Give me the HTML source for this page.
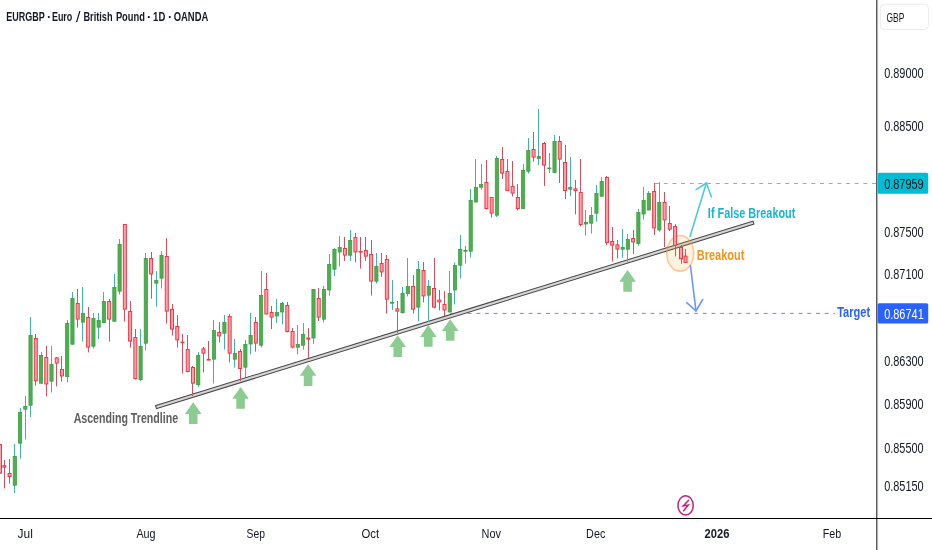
<!DOCTYPE html>
<html><head><meta charset="utf-8"><title>EURGBP chart</title>
<style>html,body{margin:0;padding:0;background:#fff;width:932px;height:550px;overflow:hidden}</style>
</head><body>
<svg width="932" height="550" viewBox="0 0 932 550" style="position:absolute;left:0;top:0;will-change:transform;font-family:'Liberation Sans',sans-serif">
<rect width="932" height="550" fill="#ffffff"/>
<!-- axes -->
<rect x="876" y="0" width="1.2" height="550" fill="#5a5a5a"/><rect x="877.2" y="0" width="0.9" height="550" fill="#a8a8a8"/>
<rect x="0" y="518" width="932" height="1" fill="#000000"/>
<!-- GBP box -->
<rect x="880.3" y="4.3" width="48.2" height="25.2" rx="4" fill="#ffffff" stroke="#ececec" stroke-width="1"/>
<text x="886.48" y="21.8" font-size="12.5" font-weight="normal" fill="#131722" textLength="17.77" lengthAdjust="spacingAndGlyphs" text-anchor="start" >GBP</text>
<!-- dashed lines -->
<line x1="655.1" y1="183.5" x2="876" y2="183.5" stroke="#4fcadb" stroke-width="1" stroke-dasharray="3.9 4.78"/>
<line x1="450.2" y1="313.4" x2="835" y2="313.4" stroke="#5b8ff5" stroke-width="1" stroke-dasharray="3.9 4.81"/>
<!-- trendline -->
<rect x="0" y="-1.6" width="625.3" height="3.2" fill="#d4d4d4" stroke="#444" stroke-width="1" transform="translate(156,407.1) rotate(-17.16)"/>
<!-- ellipse -->
<ellipse cx="680.2" cy="253.4" rx="13.5" ry="17.8" fill="rgba(255,152,0,0.13)" stroke="rgba(245,150,60,0.5)" stroke-width="1.5"/>
<!-- candles -->
<rect x="0" y="444" width="1" height="29.6" fill="#d5505f"/>
<rect x="-1.5" y="444.5" width="3" height="28.6" fill="#f8a3ab" stroke="#f23645" stroke-width="1"/>
<rect x="4" y="460" width="1" height="28.4" fill="#d5505f"/>
<rect x="2.84" y="465.7" width="3" height="1.4" fill="#f8a3ab" stroke="#f23645" stroke-width="1"/>
<rect x="9" y="459" width="1" height="24.6" fill="#d5505f"/>
<rect x="8.08" y="473.5" width="3" height="3" fill="#f8a3ab" stroke="#f23645" stroke-width="1"/>
<rect x="14" y="444" width="1" height="49" fill="#45b3a4"/>
<rect x="13.22" y="456.4" width="3.2" height="28.8" fill="#4caf50" stroke="#3e9e43" stroke-width="0.8"/>
<rect x="20" y="408" width="1" height="50.6" fill="#45b3a4"/>
<rect x="18.46" y="412.4" width="3.2" height="30.8" fill="#4caf50" stroke="#3e9e43" stroke-width="0.8"/>
<rect x="25" y="396" width="1" height="43.6" fill="#45b3a4"/>
<rect x="23.7" y="406.4" width="3.2" height="2.8" fill="#4caf50" stroke="#3e9e43" stroke-width="0.8"/>
<rect x="30" y="317" width="1" height="100" fill="#45b3a4"/>
<rect x="28.94" y="335.4" width="3.2" height="69.8" fill="#4caf50" stroke="#3e9e43" stroke-width="0.8"/>
<rect x="35" y="334" width="1" height="51.6" fill="#d5505f"/>
<rect x="34.28" y="338.5" width="3" height="42.4" fill="#f8a3ab" stroke="#f23645" stroke-width="1"/>
<rect x="41" y="352" width="1" height="31.6" fill="#45b3a4"/>
<rect x="39.42" y="355.4" width="3.2" height="27.8" fill="#4caf50" stroke="#3e9e43" stroke-width="0.8"/>
<rect x="46" y="346" width="1" height="50.4" fill="#d5505f"/>
<rect x="44.76" y="357.5" width="3" height="26.4" fill="#f8a3ab" stroke="#f23645" stroke-width="1"/>
<rect x="51" y="346" width="1" height="46.4" fill="#45b3a4"/>
<rect x="49.9" y="364.4" width="3.2" height="16.8" fill="#4caf50" stroke="#3e9e43" stroke-width="0.8"/>
<rect x="56" y="357" width="1" height="29.4" fill="#d5505f"/>
<rect x="55.24" y="357.9" width="3" height="5.2" fill="#f8a3ab" stroke="#f23645" stroke-width="1"/>
<rect x="61" y="356" width="1" height="25.6" fill="#d5505f"/>
<rect x="60.48" y="369.5" width="3" height="6.4" fill="#f8a3ab" stroke="#f23645" stroke-width="1"/>
<rect x="67" y="320" width="1" height="62.4" fill="#45b3a4"/>
<rect x="65.62" y="323.4" width="3.2" height="53.2" fill="#4caf50" stroke="#3e9e43" stroke-width="0.8"/>
<rect x="72" y="292" width="1" height="52.6" fill="#45b3a4"/>
<rect x="70.86" y="298.4" width="3.2" height="45.8" fill="#4caf50" stroke="#3e9e43" stroke-width="0.8"/>
<rect x="77" y="289" width="1" height="38.6" fill="#d5505f"/>
<rect x="76.2" y="303.5" width="3" height="15.6" fill="#f8a3ab" stroke="#f23645" stroke-width="1"/>
<rect x="82" y="287" width="1" height="54.6" fill="#45b3a4"/>
<rect x="81.34" y="313.4" width="3.2" height="8.8" fill="#4caf50" stroke="#3e9e43" stroke-width="0.8"/>
<rect x="88" y="307" width="1" height="45.4" fill="#d5505f"/>
<rect x="86.68" y="317.5" width="3" height="29.6" fill="#f8a3ab" stroke="#f23645" stroke-width="1"/>
<rect x="93" y="313" width="1" height="35.6" fill="#45b3a4"/>
<rect x="91.82" y="318.4" width="3.2" height="27.8" fill="#4caf50" stroke="#3e9e43" stroke-width="0.8"/>
<rect x="98" y="313" width="1" height="26" fill="#45b3a4"/>
<rect x="97.06" y="320.4" width="3.2" height="6.8" fill="#4caf50" stroke="#3e9e43" stroke-width="0.8"/>
<rect x="103" y="292" width="1" height="31" fill="#45b3a4"/>
<rect x="102.3" y="301.4" width="3.2" height="21.2" fill="#4caf50" stroke="#3e9e43" stroke-width="0.8"/>
<rect x="109" y="299" width="1" height="42.6" fill="#d5505f"/>
<rect x="107.64" y="301.5" width="3" height="17.6" fill="#f8a3ab" stroke="#f23645" stroke-width="1"/>
<rect x="114" y="274" width="1" height="47.6" fill="#45b3a4"/>
<rect x="112.78" y="287.4" width="3.2" height="33.8" fill="#4caf50" stroke="#3e9e43" stroke-width="0.8"/>
<rect x="119" y="239" width="1" height="55.4" fill="#45b3a4"/>
<rect x="118.02" y="244.4" width="3.2" height="46.8" fill="#4caf50" stroke="#3e9e43" stroke-width="0.8"/>
<rect x="124" y="224" width="1" height="97.6" fill="#d5505f"/>
<rect x="123.36" y="224.5" width="3" height="84.6" fill="#f8a3ab" stroke="#f23645" stroke-width="1"/>
<rect x="130" y="301" width="1" height="46.6" fill="#d5505f"/>
<rect x="128.6" y="311.5" width="3" height="29.6" fill="#f8a3ab" stroke="#f23645" stroke-width="1"/>
<rect x="135" y="329" width="1" height="50.6" fill="#d5505f"/>
<rect x="133.84" y="337.5" width="3" height="41" fill="#f8a3ab" stroke="#f23645" stroke-width="1"/>
<rect x="140" y="329" width="1" height="52" fill="#45b3a4"/>
<rect x="138.98" y="346.4" width="3.2" height="33.2" fill="#4caf50" stroke="#3e9e43" stroke-width="0.8"/>
<rect x="145" y="253" width="1" height="97.4" fill="#45b3a4"/>
<rect x="144.22" y="258.4" width="3.2" height="84.8" fill="#4caf50" stroke="#3e9e43" stroke-width="0.8"/>
<rect x="151" y="252" width="1" height="46.6" fill="#d5505f"/>
<rect x="149.56" y="258.5" width="3" height="15.4" fill="#f8a3ab" stroke="#f23645" stroke-width="1"/>
<rect x="156" y="271" width="1" height="35.6" fill="#45b3a4"/>
<rect x="154.7" y="280.4" width="3.2" height="2.8" fill="#4caf50" stroke="#3e9e43" stroke-width="0.8"/>
<rect x="161" y="251" width="1" height="37.4" fill="#45b3a4"/>
<rect x="159.94" y="255.4" width="3.2" height="22.8" fill="#4caf50" stroke="#3e9e43" stroke-width="0.8"/>
<rect x="166" y="238" width="1" height="85.6" fill="#d5505f"/>
<rect x="165.28" y="256.5" width="3" height="54.6" fill="#f8a3ab" stroke="#f23645" stroke-width="1"/>
<rect x="172" y="304" width="1" height="31.6" fill="#d5505f"/>
<rect x="170.52" y="309.5" width="3" height="19.6" fill="#f8a3ab" stroke="#f23645" stroke-width="1"/>
<rect x="177" y="315" width="1" height="32.6" fill="#d5505f"/>
<rect x="175.76" y="326.5" width="3" height="13.4" fill="#f8a3ab" stroke="#f23645" stroke-width="1"/>
<rect x="182" y="334" width="1" height="39.6" fill="#d5505f"/>
<rect x="181" y="342.1" width="3" height="0.6" fill="#f8a3ab" stroke="#f23645" stroke-width="1"/>
<rect x="187" y="335" width="1" height="37.4" fill="#d5505f"/>
<rect x="186.24" y="349.5" width="3" height="22" fill="#f8a3ab" stroke="#f23645" stroke-width="1"/>
<rect x="192" y="366" width="1" height="30" fill="#d5505f"/>
<rect x="191.48" y="367.5" width="3" height="15.6" fill="#f8a3ab" stroke="#f23645" stroke-width="1"/>
<rect x="198" y="352" width="1" height="35" fill="#45b3a4"/>
<rect x="196.62" y="355.4" width="3.2" height="29.2" fill="#4caf50" stroke="#3e9e43" stroke-width="0.8"/>
<rect x="203" y="347" width="1" height="25.4" fill="#d5505f"/>
<rect x="201.96" y="348.9" width="3" height="4.2" fill="#f8a3ab" stroke="#f23645" stroke-width="1"/>
<rect x="208" y="341" width="1" height="19" fill="#d5505f"/>
<rect x="207.2" y="359.5" width="3" height="0.6" fill="#f8a3ab" stroke="#f23645" stroke-width="1"/>
<rect x="213" y="320" width="1" height="63.6" fill="#45b3a4"/>
<rect x="212.34" y="330.4" width="3.2" height="28.8" fill="#4caf50" stroke="#3e9e43" stroke-width="0.8"/>
<rect x="219" y="322" width="1" height="20.4" fill="#d5505f"/>
<rect x="217.68" y="332.5" width="3" height="3.4" fill="#f8a3ab" stroke="#f23645" stroke-width="1"/>
<rect x="224" y="315" width="1" height="34.6" fill="#45b3a4"/>
<rect x="222.82" y="322.4" width="3.2" height="10.8" fill="#4caf50" stroke="#3e9e43" stroke-width="0.8"/>
<rect x="229" y="314" width="1" height="48.4" fill="#d5505f"/>
<rect x="228.16" y="316.5" width="3" height="36.6" fill="#f8a3ab" stroke="#f23645" stroke-width="1"/>
<rect x="234" y="339" width="1" height="28.6" fill="#45b3a4"/>
<rect x="233.3" y="353.4" width="3.2" height="5.8" fill="#4caf50" stroke="#3e9e43" stroke-width="0.8"/>
<rect x="240" y="349" width="1" height="32" fill="#d5505f"/>
<rect x="238.64" y="351.5" width="3" height="17" fill="#f8a3ab" stroke="#f23645" stroke-width="1"/>
<rect x="245" y="340" width="1" height="37" fill="#45b3a4"/>
<rect x="243.78" y="344.4" width="3.2" height="22.8" fill="#4caf50" stroke="#3e9e43" stroke-width="0.8"/>
<rect x="250" y="313" width="1" height="41.4" fill="#45b3a4"/>
<rect x="249.02" y="335.4" width="3.2" height="8.6" fill="#4caf50" stroke="#3e9e43" stroke-width="0.8"/>
<rect x="255" y="317" width="1" height="34.6" fill="#d5505f"/>
<rect x="254.36" y="322.5" width="3" height="20.6" fill="#f8a3ab" stroke="#f23645" stroke-width="1"/>
<rect x="261" y="271" width="1" height="76.6" fill="#45b3a4"/>
<rect x="259.5" y="295.4" width="3.2" height="49.8" fill="#4caf50" stroke="#3e9e43" stroke-width="0.8"/>
<rect x="266" y="273" width="1" height="41.4" fill="#d5505f"/>
<rect x="264.84" y="289.5" width="3" height="24.4" fill="#f8a3ab" stroke="#f23645" stroke-width="1"/>
<rect x="271" y="306" width="1" height="23" fill="#d5505f"/>
<rect x="270.08" y="312.5" width="3" height="4.6" fill="#f8a3ab" stroke="#f23645" stroke-width="1"/>
<rect x="276" y="299" width="1" height="24" fill="#45b3a4"/>
<rect x="275.22" y="312.4" width="3.2" height="3.6" fill="#4caf50" stroke="#3e9e43" stroke-width="0.8"/>
<rect x="282" y="302" width="1" height="22.4" fill="#45b3a4"/>
<rect x="280.46" y="303.4" width="3.2" height="8.6" fill="#4caf50" stroke="#3e9e43" stroke-width="0.8"/>
<rect x="287" y="302" width="1" height="30.4" fill="#d5505f"/>
<rect x="285.8" y="305.5" width="3" height="26" fill="#f8a3ab" stroke="#f23645" stroke-width="1"/>
<rect x="292" y="328" width="1" height="20.4" fill="#d5505f"/>
<rect x="291.04" y="331.5" width="3" height="15.6" fill="#f8a3ab" stroke="#f23645" stroke-width="1"/>
<rect x="297" y="325" width="1" height="29.4" fill="#45b3a4"/>
<rect x="296.18" y="344.4" width="3.2" height="2.8" fill="#4caf50" stroke="#3e9e43" stroke-width="0.8"/>
<rect x="303" y="323" width="1" height="26.6" fill="#45b3a4"/>
<rect x="301.42" y="334.4" width="3.2" height="10.8" fill="#4caf50" stroke="#3e9e43" stroke-width="0.8"/>
<rect x="308" y="328" width="1" height="30" fill="#d5505f"/>
<rect x="306.76" y="338.1" width="3" height="1" fill="#f8a3ab" stroke="#f23645" stroke-width="1"/>
<rect x="313" y="289" width="1" height="55" fill="#45b3a4"/>
<rect x="311.9" y="289.4" width="3.2" height="48.6" fill="#4caf50" stroke="#3e9e43" stroke-width="0.8"/>
<rect x="318" y="288" width="1" height="33" fill="#d5505f"/>
<rect x="317.24" y="298.5" width="3" height="18.6" fill="#f8a3ab" stroke="#f23645" stroke-width="1"/>
<rect x="323" y="286" width="1" height="36.4" fill="#45b3a4"/>
<rect x="322.38" y="289.4" width="3.2" height="29.8" fill="#4caf50" stroke="#3e9e43" stroke-width="0.8"/>
<rect x="329" y="254" width="1" height="41.6" fill="#45b3a4"/>
<rect x="327.62" y="264.4" width="3.2" height="25.6" fill="#4caf50" stroke="#3e9e43" stroke-width="0.8"/>
<rect x="334" y="248" width="1" height="28" fill="#45b3a4"/>
<rect x="332.86" y="249.4" width="3.2" height="19.8" fill="#4caf50" stroke="#3e9e43" stroke-width="0.8"/>
<rect x="339" y="236" width="1" height="30.4" fill="#45b3a4"/>
<rect x="338.1" y="247.4" width="3.2" height="4.6" fill="#4caf50" stroke="#3e9e43" stroke-width="0.8"/>
<rect x="344" y="237" width="1" height="24" fill="#d5505f"/>
<rect x="343.44" y="248.5" width="3" height="6.6" fill="#f8a3ab" stroke="#f23645" stroke-width="1"/>
<rect x="350" y="230" width="1" height="31" fill="#45b3a4"/>
<rect x="348.58" y="240.4" width="3.2" height="14.8" fill="#4caf50" stroke="#3e9e43" stroke-width="0.8"/>
<rect x="355" y="233" width="1" height="29.4" fill="#d5505f"/>
<rect x="353.92" y="237.5" width="3" height="14.4" fill="#f8a3ab" stroke="#f23645" stroke-width="1"/>
<rect x="360" y="237" width="1" height="31.6" fill="#d5505f"/>
<rect x="359.16" y="251.5" width="3" height="0.6" fill="#f8a3ab" stroke="#f23645" stroke-width="1"/>
<rect x="365" y="237" width="1" height="24" fill="#d5505f"/>
<rect x="364.4" y="250.5" width="3" height="5.6" fill="#f8a3ab" stroke="#f23645" stroke-width="1"/>
<rect x="371" y="240" width="1" height="55.6" fill="#d5505f"/>
<rect x="369.64" y="254.5" width="3" height="26.6" fill="#f8a3ab" stroke="#f23645" stroke-width="1"/>
<rect x="376" y="253" width="1" height="30.6" fill="#45b3a4"/>
<rect x="374.78" y="266.4" width="3.2" height="14.8" fill="#4caf50" stroke="#3e9e43" stroke-width="0.8"/>
<rect x="381" y="253" width="1" height="24" fill="#d5505f"/>
<rect x="380.12" y="263.5" width="3" height="8.4" fill="#f8a3ab" stroke="#f23645" stroke-width="1"/>
<rect x="386" y="255" width="1" height="58.6" fill="#d5505f"/>
<rect x="385.36" y="259.5" width="3" height="39.6" fill="#f8a3ab" stroke="#f23645" stroke-width="1"/>
<rect x="392" y="280" width="1" height="30" fill="#45b3a4"/>
<rect x="390.5" y="302.4" width="3.2" height="0.8" fill="#4caf50" stroke="#3e9e43" stroke-width="0.8"/>
<rect x="397" y="301" width="1" height="32" fill="#d5505f"/>
<rect x="395.84" y="308.9" width="3" height="2.2" fill="#f8a3ab" stroke="#f23645" stroke-width="1"/>
<rect x="402" y="287" width="1" height="26.6" fill="#45b3a4"/>
<rect x="400.98" y="293.4" width="3.2" height="19.2" fill="#4caf50" stroke="#3e9e43" stroke-width="0.8"/>
<rect x="407" y="258" width="1" height="38.4" fill="#45b3a4"/>
<rect x="406.22" y="286.4" width="3.2" height="7.2" fill="#4caf50" stroke="#3e9e43" stroke-width="0.8"/>
<rect x="413" y="275" width="1" height="38.6" fill="#d5505f"/>
<rect x="411.56" y="286.5" width="3" height="22.6" fill="#f8a3ab" stroke="#f23645" stroke-width="1"/>
<rect x="418" y="261" width="1" height="60" fill="#45b3a4"/>
<rect x="416.7" y="269.4" width="3.2" height="37.8" fill="#4caf50" stroke="#3e9e43" stroke-width="0.8"/>
<rect x="423" y="262" width="1" height="40.4" fill="#d5505f"/>
<rect x="422.04" y="270.5" width="3" height="25.4" fill="#f8a3ab" stroke="#f23645" stroke-width="1"/>
<rect x="428" y="280" width="1" height="42" fill="#45b3a4"/>
<rect x="427.18" y="286.4" width="3.2" height="8.8" fill="#4caf50" stroke="#3e9e43" stroke-width="0.8"/>
<rect x="434" y="258" width="1" height="50.4" fill="#d5505f"/>
<rect x="432.52" y="288.5" width="3" height="18.6" fill="#f8a3ab" stroke="#f23645" stroke-width="1"/>
<rect x="439" y="290" width="1" height="20.4" fill="#d5505f"/>
<rect x="437.76" y="300.1" width="3" height="1.8" fill="#f8a3ab" stroke="#f23645" stroke-width="1"/>
<rect x="444" y="291" width="1" height="25" fill="#d5505f"/>
<rect x="443" y="304.5" width="3" height="5.4" fill="#f8a3ab" stroke="#f23645" stroke-width="1"/>
<rect x="449" y="271" width="1" height="41.4" fill="#45b3a4"/>
<rect x="448.14" y="293.4" width="3.2" height="18.6" fill="#4caf50" stroke="#3e9e43" stroke-width="0.8"/>
<rect x="454" y="262.4" width="1" height="42" fill="#45b3a4"/>
<rect x="453.38" y="265.4" width="3.2" height="24.6" fill="#4caf50" stroke="#3e9e43" stroke-width="0.8"/>
<rect x="460" y="235" width="1" height="43.4" fill="#45b3a4"/>
<rect x="458.62" y="249.4" width="3.2" height="15.8" fill="#4caf50" stroke="#3e9e43" stroke-width="0.8"/>
<rect x="465" y="246" width="1" height="17.6" fill="#45b3a4"/>
<rect x="463.86" y="250.4" width="3.2" height="0.8" fill="#4caf50" stroke="#3e9e43" stroke-width="0.8"/>
<rect x="470" y="189" width="1" height="68.6" fill="#45b3a4"/>
<rect x="469.1" y="200.4" width="3.2" height="50.8" fill="#4caf50" stroke="#3e9e43" stroke-width="0.8"/>
<rect x="475" y="159" width="1" height="43.4" fill="#45b3a4"/>
<rect x="474.34" y="187.4" width="3.2" height="14.6" fill="#4caf50" stroke="#3e9e43" stroke-width="0.8"/>
<rect x="481" y="164" width="1" height="25.6" fill="#45b3a4"/>
<rect x="479.58" y="184.4" width="3.2" height="2.8" fill="#4caf50" stroke="#3e9e43" stroke-width="0.8"/>
<rect x="486" y="160" width="1" height="49.6" fill="#d5505f"/>
<rect x="484.92" y="182.5" width="3" height="26" fill="#f8a3ab" stroke="#f23645" stroke-width="1"/>
<rect x="491" y="197" width="1" height="20.6" fill="#d5505f"/>
<rect x="490.16" y="197.5" width="3" height="15.6" fill="#f8a3ab" stroke="#f23645" stroke-width="1"/>
<rect x="496" y="156" width="1" height="61" fill="#45b3a4"/>
<rect x="495.3" y="158.4" width="3.2" height="56.8" fill="#4caf50" stroke="#3e9e43" stroke-width="0.8"/>
<rect x="502" y="147" width="1" height="32" fill="#d5505f"/>
<rect x="500.64" y="159.5" width="3" height="13.6" fill="#f8a3ab" stroke="#f23645" stroke-width="1"/>
<rect x="507" y="159" width="1" height="32" fill="#d5505f"/>
<rect x="505.88" y="171.5" width="3" height="19" fill="#f8a3ab" stroke="#f23645" stroke-width="1"/>
<rect x="512" y="161" width="1" height="35.4" fill="#d5505f"/>
<rect x="511.12" y="186.5" width="3" height="6.6" fill="#f8a3ab" stroke="#f23645" stroke-width="1"/>
<rect x="517" y="184" width="1" height="26.4" fill="#d5505f"/>
<rect x="516.36" y="197.5" width="3" height="11" fill="#f8a3ab" stroke="#f23645" stroke-width="1"/>
<rect x="523" y="164" width="1" height="45" fill="#45b3a4"/>
<rect x="521.5" y="170.4" width="3.2" height="38.2" fill="#4caf50" stroke="#3e9e43" stroke-width="0.8"/>
<rect x="528" y="138" width="1" height="35.6" fill="#45b3a4"/>
<rect x="526.74" y="150.4" width="3.2" height="20.8" fill="#4caf50" stroke="#3e9e43" stroke-width="0.8"/>
<rect x="533" y="132" width="1" height="29.6" fill="#d5505f"/>
<rect x="532.08" y="149.5" width="3" height="7.6" fill="#f8a3ab" stroke="#f23645" stroke-width="1"/>
<rect x="538" y="109" width="1" height="56" fill="#45b3a4"/>
<rect x="537.22" y="156.4" width="3.2" height="2.2" fill="#4caf50" stroke="#3e9e43" stroke-width="0.8"/>
<rect x="544" y="142" width="1" height="44" fill="#d5505f"/>
<rect x="542.56" y="143.5" width="3" height="21.6" fill="#f8a3ab" stroke="#f23645" stroke-width="1"/>
<rect x="549" y="153" width="1" height="20" fill="#45b3a4"/>
<rect x="547.7" y="168" width="3.2" height="0.6" fill="#4caf50" stroke="#3e9e43" stroke-width="0.8"/>
<rect x="554" y="135" width="1" height="38" fill="#45b3a4"/>
<rect x="552.94" y="141.4" width="3.2" height="31.2" fill="#4caf50" stroke="#3e9e43" stroke-width="0.8"/>
<rect x="559" y="136" width="1" height="47" fill="#d5505f"/>
<rect x="558.28" y="141.5" width="3" height="17.6" fill="#f8a3ab" stroke="#f23645" stroke-width="1"/>
<rect x="565" y="145" width="1" height="54" fill="#d5505f"/>
<rect x="563.52" y="162.5" width="3" height="28" fill="#f8a3ab" stroke="#f23645" stroke-width="1"/>
<rect x="570" y="157" width="1" height="39" fill="#45b3a4"/>
<rect x="568.66" y="187.4" width="3.2" height="1.8" fill="#4caf50" stroke="#3e9e43" stroke-width="0.8"/>
<rect x="575" y="180" width="1" height="34.4" fill="#d5505f"/>
<rect x="574" y="188.9" width="3" height="1.6" fill="#f8a3ab" stroke="#f23645" stroke-width="1"/>
<rect x="580" y="159" width="1" height="67.4" fill="#d5505f"/>
<rect x="579.24" y="192.5" width="3" height="32" fill="#f8a3ab" stroke="#f23645" stroke-width="1"/>
<rect x="585" y="210" width="1" height="25.6" fill="#45b3a4"/>
<rect x="584.38" y="222.4" width="3.2" height="1.6" fill="#4caf50" stroke="#3e9e43" stroke-width="0.8"/>
<rect x="591" y="207" width="1" height="26.6" fill="#45b3a4"/>
<rect x="589.62" y="215.4" width="3.2" height="7.8" fill="#4caf50" stroke="#3e9e43" stroke-width="0.8"/>
<rect x="596" y="185" width="1" height="36.6" fill="#45b3a4"/>
<rect x="594.86" y="193.4" width="3.2" height="19.8" fill="#4caf50" stroke="#3e9e43" stroke-width="0.8"/>
<rect x="601" y="177" width="1" height="19.6" fill="#45b3a4"/>
<rect x="600.1" y="181.4" width="3.2" height="14.8" fill="#4caf50" stroke="#3e9e43" stroke-width="0.8"/>
<rect x="606" y="176" width="1" height="69" fill="#d5505f"/>
<rect x="605.44" y="177.5" width="3" height="65" fill="#f8a3ab" stroke="#f23645" stroke-width="1"/>
<rect x="612" y="227" width="1" height="34.6" fill="#d5505f"/>
<rect x="610.68" y="241.5" width="3" height="3.6" fill="#f8a3ab" stroke="#f23645" stroke-width="1"/>
<rect x="617" y="240" width="1" height="18.4" fill="#d5505f"/>
<rect x="615.92" y="244.9" width="3" height="4.2" fill="#f8a3ab" stroke="#f23645" stroke-width="1"/>
<rect x="622" y="229" width="1" height="28.6" fill="#45b3a4"/>
<rect x="621.06" y="247.4" width="3.2" height="1.8" fill="#4caf50" stroke="#3e9e43" stroke-width="0.8"/>
<rect x="627" y="234" width="1" height="28.4" fill="#45b3a4"/>
<rect x="626.3" y="239.4" width="3.2" height="9.8" fill="#4caf50" stroke="#3e9e43" stroke-width="0.8"/>
<rect x="633" y="230" width="1" height="24" fill="#d5505f"/>
<rect x="631.64" y="238.5" width="3" height="3.4" fill="#f8a3ab" stroke="#f23645" stroke-width="1"/>
<rect x="638" y="209" width="1" height="36.6" fill="#45b3a4"/>
<rect x="636.78" y="212.4" width="3.2" height="31.2" fill="#4caf50" stroke="#3e9e43" stroke-width="0.8"/>
<rect x="643" y="187" width="1" height="32.6" fill="#45b3a4"/>
<rect x="642.02" y="200.4" width="3.2" height="13.6" fill="#4caf50" stroke="#3e9e43" stroke-width="0.8"/>
<rect x="648" y="191" width="1" height="19.4" fill="#45b3a4"/>
<rect x="647.26" y="193.4" width="3.2" height="16.6" fill="#4caf50" stroke="#3e9e43" stroke-width="0.8"/>
<rect x="654" y="183" width="1" height="52" fill="#d5505f"/>
<rect x="652.6" y="191.5" width="3" height="36.4" fill="#f8a3ab" stroke="#f23645" stroke-width="1"/>
<rect x="659" y="182" width="1" height="49.6" fill="#45b3a4"/>
<rect x="657.74" y="202.4" width="3.2" height="27.6" fill="#4caf50" stroke="#3e9e43" stroke-width="0.8"/>
<rect x="664" y="192" width="1" height="55" fill="#d5505f"/>
<rect x="663.08" y="202.5" width="3" height="17.4" fill="#f8a3ab" stroke="#f23645" stroke-width="1"/>
<rect x="669" y="206" width="1" height="25" fill="#d5505f"/>
<rect x="668.32" y="223.5" width="3" height="5.6" fill="#f8a3ab" stroke="#f23645" stroke-width="1"/>
<rect x="675" y="224.2" width="1" height="32.2" fill="#d5505f"/>
<rect x="673.56" y="226.6" width="3" height="18.9" fill="#f8a3ab" stroke="#f23645" stroke-width="1"/>
<rect x="681" y="245" width="1" height="18.7" fill="#d5505f"/>
<rect x="679.5" y="247.5" width="3" height="11.2" fill="#f8a3ab" stroke="#f23645" stroke-width="1"/>
<rect x="685" y="249" width="1" height="14" fill="#d5505f"/>
<rect x="684.04" y="256.1" width="3" height="6.3" fill="#f8a3ab" stroke="#f23645" stroke-width="1"/>
<!-- arrows up -->
<path d="M193.2,402.2 L201.5,414 L197.5,414 L197.5,424 L188.9,424 L188.9,414 L184.9,414 Z" fill="#8dcc91"/>
<path d="M240.6,387 L248.9,398.8 L244.9,398.8 L244.9,408.8 L236.3,408.8 L236.3,398.8 L232.3,398.8 Z" fill="#8dcc91"/>
<path d="M308.1,363.9 L316.4,375.7 L312.4,375.7 L312.4,386 L303.8,386 L303.8,375.7 L299.8,375.7 Z" fill="#8dcc91"/>
<path d="M397.7,335.2 L406,347 L402,347 L402,356.9 L393.4,356.9 L393.4,347 L389.4,347 Z" fill="#8dcc91"/>
<path d="M428.3,325.1 L436.6,336.9 L432.6,336.9 L432.6,346.8 L424,346.8 L424,336.9 L420,336.9 Z" fill="#8dcc91"/>
<path d="M450.2,319.3 L458.5,331.1 L454.5,331.1 L454.5,340.8 L445.9,340.8 L445.9,331.1 L441.9,331.1 Z" fill="#8dcc91"/>
<path d="M627.6,269.9 L635.9,281.7 L631.9,281.7 L631.9,291.8 L623.3,291.8 L623.3,281.7 L619.3,281.7 Z" fill="#8dcc91"/>
<!-- cyan arrow -->
<g stroke="#4fcadb" stroke-width="1.6" fill="none" stroke-linecap="round" stroke-linejoin="round">
<line x1="690" y1="236.4" x2="706.4" y2="183"/>
<polyline points="696.1,189.6 706.4,183 711.3,196.8"/>
</g>
<!-- blue arrow -->
<g stroke="#6b98f7" stroke-width="1.6" fill="none" stroke-linecap="round" stroke-linejoin="round">
<line x1="690.4" y1="265.5" x2="696" y2="310.9"/>
<polyline points="686.7,302.7 696,310.9 702.7,299.5"/>
</g>
<!-- labels -->
<text x="707.87" y="217.6" font-size="14" font-weight="bold" fill="#19b5cf" textLength="87.46" lengthAdjust="spacingAndGlyphs" text-anchor="start" >If False Breakout</text>
<text x="696.87" y="259.6" font-size="14" font-weight="bold" fill="#f7941d" textLength="47.47" lengthAdjust="spacingAndGlyphs" text-anchor="start" >Breakout</text>
<text x="837.18" y="316.9" font-size="14" font-weight="bold" fill="#2962ff" textLength="32.95" lengthAdjust="spacingAndGlyphs" text-anchor="start" >Target</text>
<text x="73.64" y="422.7" font-size="14" font-weight="bold" fill="#5d5d5d" textLength="104.42" lengthAdjust="spacingAndGlyphs" text-anchor="start" >Ascending Trendline</text>
<!-- price tags -->
<rect x="877.6" y="172.8" width="50.6" height="20.9" rx="1.5" fill="#00bcd4"/>
<text x="884.17" y="188.7" font-size="14" font-weight="normal" fill="#131722" textLength="39.55" lengthAdjust="spacingAndGlyphs" text-anchor="start" >0.87959</text>
<rect x="877.6" y="303.2" width="50.6" height="20.4" rx="1.5" fill="#2962ff"/>
<text x="884.17" y="319" font-size="14" font-weight="normal" fill="#ffffff" textLength="39.56" lengthAdjust="spacingAndGlyphs" text-anchor="start" >0.86741</text>
<!-- lightning -->
<ellipse cx="685.6" cy="505.4" rx="7.6" ry="9.6" fill="none" stroke="#c2227a" stroke-width="1.5"/>
<path d="M688.4,500.4 L683.2,505.9 L688.4,505.1 L683.6,510.7" fill="none" stroke="#c2227a" stroke-width="1.5" stroke-linejoin="miter" stroke-linecap="round"/>
<text x="6.25" y="20.7" font-size="13" font-weight="bold" fill="#131722" textLength="38.36" lengthAdjust="spacingAndGlyphs" text-anchor="start" >EURGBP</text><text x="46.92" y="20.7" font-size="13" font-weight="bold" fill="#131722" textLength="4.26" lengthAdjust="spacingAndGlyphs" text-anchor="start" >·</text><text x="51.9" y="20.7" font-size="13" font-weight="bold" fill="#131722" textLength="20.45" lengthAdjust="spacingAndGlyphs" text-anchor="start" >Euro</text><text x="76.1" y="21.6" font-size="14.5" font-weight="normal" fill="#131722" textLength="4.5" lengthAdjust="spacingAndGlyphs" text-anchor="start" >/</text><text x="83.49" y="20.7" font-size="13" font-weight="bold" fill="#131722" textLength="29.08" lengthAdjust="spacingAndGlyphs" text-anchor="start" >British</text><text x="115.88" y="20.7" font-size="13" font-weight="bold" fill="#131722" textLength="29.04" lengthAdjust="spacingAndGlyphs" text-anchor="start" >Pound</text><text x="146.92" y="20.7" font-size="13" font-weight="bold" fill="#131722" textLength="4.26" lengthAdjust="spacingAndGlyphs" text-anchor="start" >·</text><text x="153.1" y="20.7" font-size="13" font-weight="bold" fill="#131722" textLength="12.2" lengthAdjust="spacingAndGlyphs" text-anchor="start" >1D</text><text x="168.12" y="20.7" font-size="13" font-weight="bold" fill="#131722" textLength="4.26" lengthAdjust="spacingAndGlyphs" text-anchor="start" >·</text><text x="173.71" y="20.7" font-size="13" font-weight="bold" fill="#131722" textLength="34.53" lengthAdjust="spacingAndGlyphs" text-anchor="start" >OANDA</text><text x="17.51" y="537.6" font-size="13" font-weight="normal" fill="#131722" textLength="15.29" lengthAdjust="spacingAndGlyphs" text-anchor="start" >Jul</text><text x="136.38" y="537.6" font-size="13" font-weight="normal" fill="#131722" textLength="19.11" lengthAdjust="spacingAndGlyphs" text-anchor="start" >Aug</text><text x="246.53" y="537.6" font-size="13" font-weight="normal" fill="#131722" textLength="18.4" lengthAdjust="spacingAndGlyphs" text-anchor="start" >Sep</text><text x="361.46" y="537.6" font-size="13" font-weight="normal" fill="#131722" textLength="17.62" lengthAdjust="spacingAndGlyphs" text-anchor="start" >Oct</text><text x="481.6" y="537.6" font-size="13" font-weight="normal" fill="#131722" textLength="19.43" lengthAdjust="spacingAndGlyphs" text-anchor="start" >Nov</text><text x="586.12" y="537.6" font-size="13" font-weight="normal" fill="#131722" textLength="19.17" lengthAdjust="spacingAndGlyphs" text-anchor="start" >Dec</text><text x="704.61" y="537.6" font-size="13" font-weight="bold" fill="#131722" textLength="24.79" lengthAdjust="spacingAndGlyphs" text-anchor="start" >2026</text><text x="822.72" y="537.6" font-size="13" font-weight="normal" fill="#131722" textLength="18.43" lengthAdjust="spacingAndGlyphs" text-anchor="start" >Feb</text><text x="884.17" y="77.9" font-size="14" font-weight="normal" fill="#131722" textLength="39.45" lengthAdjust="spacingAndGlyphs" text-anchor="start" >0.89000</text><text x="884.17" y="131.1" font-size="14" font-weight="normal" fill="#131722" textLength="39.45" lengthAdjust="spacingAndGlyphs" text-anchor="start" >0.88500</text><text x="884.17" y="237.2" font-size="14" font-weight="normal" fill="#131722" textLength="39.45" lengthAdjust="spacingAndGlyphs" text-anchor="start" >0.87500</text><text x="884.17" y="279" font-size="14" font-weight="normal" fill="#131722" textLength="39.45" lengthAdjust="spacingAndGlyphs" text-anchor="start" >0.87100</text><text x="884.17" y="366.2" font-size="14" font-weight="normal" fill="#131722" textLength="39.45" lengthAdjust="spacingAndGlyphs" text-anchor="start" >0.86300</text><text x="884.17" y="408.8" font-size="14" font-weight="normal" fill="#131722" textLength="39.45" lengthAdjust="spacingAndGlyphs" text-anchor="start" >0.85900</text><text x="884.17" y="453.2" font-size="14" font-weight="normal" fill="#131722" textLength="39.45" lengthAdjust="spacingAndGlyphs" text-anchor="start" >0.85500</text><text x="884.17" y="491" font-size="14" font-weight="normal" fill="#131722" textLength="39.45" lengthAdjust="spacingAndGlyphs" text-anchor="start" >0.85150</text>
</svg>
</body></html>
